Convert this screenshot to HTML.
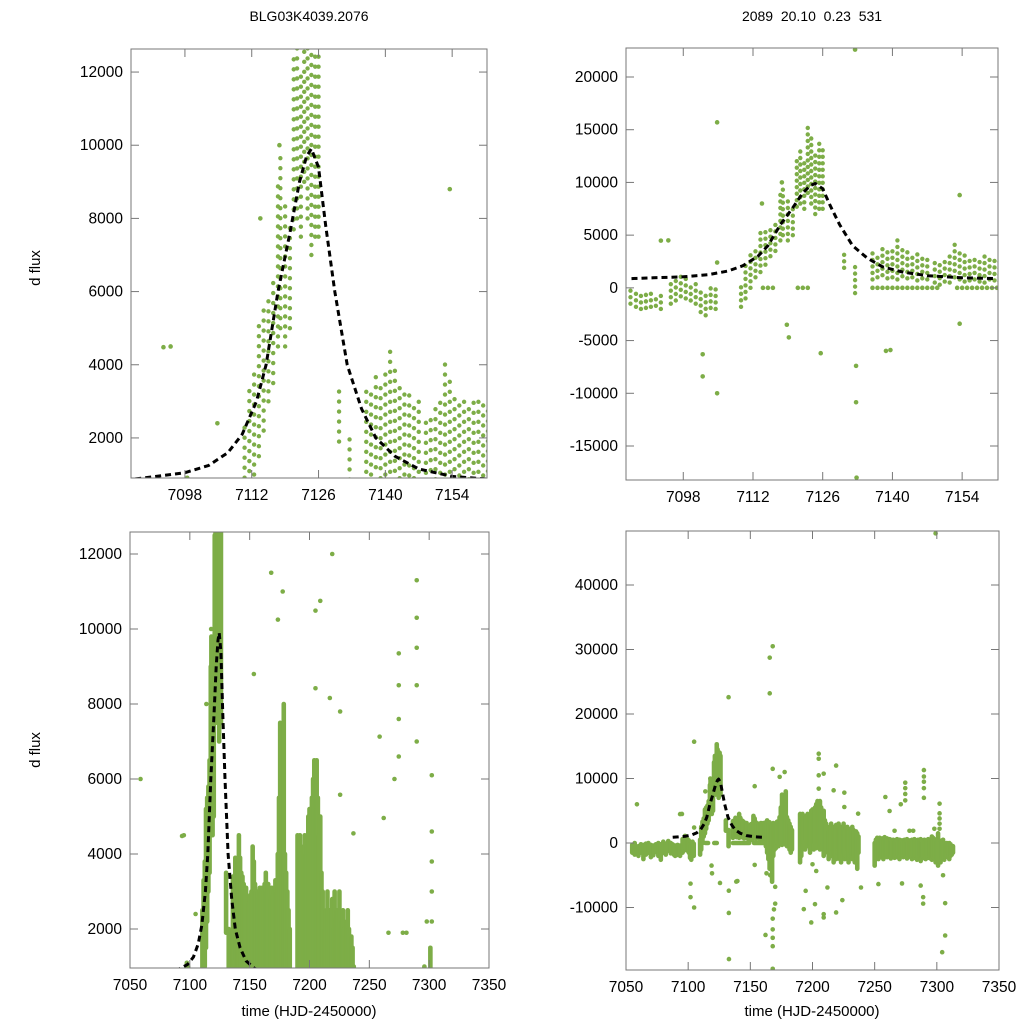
<!DOCTYPE html>
<html><head><meta charset="utf-8"><style>
html,body{margin:0;padding:0;background:#fff;width:1024px;height:1024px;overflow:hidden}
svg{display:block;font-family:"Liberation Sans",sans-serif}
</style></head><body>
<svg id="chart" width="1024" height="1024" viewBox="0 0 1024 1024">
<rect width="1024" height="1024" fill="#fff"/>
<text x="309" y="21" font-size="14" text-anchor="middle">BLG03K4039.2076</text>
<text x="812" y="21" font-size="14" text-anchor="middle" xml:space="preserve">2089  20.10  0.23  531</text>
<text transform="translate(40,268) rotate(-90)" font-size="15" text-anchor="middle">d flux</text>
<text transform="translate(40,750) rotate(-90)" font-size="15" text-anchor="middle">d flux</text>
<text x="309" y="1016" font-size="15" text-anchor="middle">time (HJD-2450000)</text>
<text x="812" y="1016" font-size="15" text-anchor="middle">time (HJD-2450000)</text>
</svg>
<script>
// Nightly observation streaks: [time, low flux, high flux]
const streakTimes=[7055,7057,7060,7062,7064,7066,7068,7070,7072,7074,7076,7078,7080,7082,7084,7086,7087.4,7088.5,7089.5,7090.5,7091.5,7092.5,7093.5,7095.5,7096.5,7097.5,7098.5,7099.5,7100.5,7101.5,7102.5,7103.5,7104.5,
7109.6,7110.5,7111.5,7112.5,7113.5,7114.5,7115.5,7116.5,7117.5,7118,7119,7120,7120.8,7121.5,7122.3,7123,7123.7,7124.5,7125.3,7126,7130.3,7132.5,
7136,7137,7138,7139,7140,7141,7142,7143,7144,7145,7146,7147,7148.5,7149.5,7150.5,7151.5,7152.5,7153.5,7154.5,7155.5,7156.5,7157.5,7158.5,7159.5,7160.5,
7161.5,7162.5,7163.5,7164.5,7165.5,7166.5,7167.5,7168.5,7169.5,7170.5,7171.5,7172.5,7173.5,7174.5,7175.5,7176.5,7177.5,7178.5,7179.5,7180.5,7181.5,7182.5,7183.5,
7190,7191,7192,7193,7194,7195,7196,7197,7198,7199,7200,7201,7202,7203,7204,7205,7206,7207,7208,7209,7210,7211,
7213,7214,7215,7216,7217,7218,7219,7220,7221,7222,7223,7224,7225,7226,7227,7228,7229,7230,7231,7232,7233,7234,7235,7236,7237,
7250,7251,7252,7253,7254,7255,7256,7257,7258,7259,7260,7261,7262,7263,7264,7265,7266,7267,7268,7269,7270,7271,7272,7273,7274,7275,7276,7277,7278,7279,7280,7281,7282,7283,7284,7285,7286,7287,7288,7289,7290,7291,7292,7293,7294,7295,7296,7297,7298,7299,7300,7301,7302,7303,7304,7305,7306,7307,7308,7309,7310,7311,7312,7313];
const streakLow=[-1500,-1800,-2000,-1500,-2500,-1800,-1500,-2200,-1900,-1400,-2000,-2600,-1500,-1800,-1200,-1600,-1500,-1800,-2000,-1900,-1800,-1700,-2000,-1500,-1200,-800,-1000,-1200,-1500,-2300,-2600,-1900,-2000,
-1800,-1000,0,1000,1500,2200,3000,3500,4500,5000,4500,5000,7700,8000,7500,9000,8000,7000,7500,7500,1900,-500,
800,1000,1200,900,1000,800,1100,900,1000,700,900,800,500,300,600,500,1000,800,600,700,800,600,500,800,700,
0,-500,-1500,-2500,-4000,-3000,-6000,-2000,-1000,-800,0,-500,0,0,-300,0,-200,0,-500,0,-1000,-1500,-1000,
-3000,-2000,-500,0,-1000,500,-500,0,-1500,-500,0,-1000,0,-800,0,0,-1000,-500,0,-2000,-1500,-1000,
-2500,-1500,-2000,-1000,-3000,-2000,-2500,-1500,-1000,-2500,-3000,-2000,-1500,-2500,-2000,-1000,-3000,-2000,-1500,-2500,-2000,-3000,-2500,-4000,-1500,
-3500,-2500,-2000,-2500,-1800,-2200,-2000,-2500,-1500,-2000,-2200,-1800,-2000,-2400,-1800,-2000,-2300,-1900,-2200,-2000,-2500,-1800,-2000,-2200,-1900,-2100,-2400,-2000,-1800,-2200,-2500,-2000,-2300,-2000,-2600,-2200,-2000,-2800,-2400,-2200,-2000,-2500,-2100,-2300,-2000,-2400,-2600,-2200,-2000,-3000,-2500,-3500,-2800,-3000,-2500,-2000,-2600,-2200,-2000,-1500,-2500,-2000,-1800,-1500];
const streakHigh=[-300,0,-500,-200,-300,-100,0,-300,-400,-200,0,-200,200,-100,300,0,-200,-400,-400,-500,-300,-500,-400,600,700,1100,1000,600,400,-200,-300,200,-100,
500,2500,3300,3800,5200,5500,5800,6500,9000,9800,8500,8000,12500,13500,12000,15300,14500,13000,14000,13500,3500,2000,
3400,3200,3900,3600,3800,4500,3900,3500,3400,3200,3000,3100,2500,2700,2900,3000,4200,3800,3200,3000,3000,2800,3100,3000,3100,
3000,3200,3500,3000,3200,3000,2800,3100,2900,3000,3300,3000,4000,5500,7500,6000,5000,8000,4000,3500,3000,2500,2000,
4500,4000,4500,4000,3800,4200,4500,4000,4200,5000,5200,4500,5500,6000,6500,6000,6500,5500,4500,5000,3500,3000,
2000,2500,3000,2200,2500,2000,2800,2000,3000,2300,2500,2500,3000,2000,2200,2500,2000,1800,2200,2500,2000,1500,1800,1500,1000,
0,500,800,600,800,500,700,600,900,500,700,400,600,500,300,500,400,300,600,200,500,300,400,200,500,300,600,200,400,300,500,300,600,400,200,500,300,600,400,200,500,300,400,600,300,500,1000,800,600,500,300,1500,400,0,300,500,0,-200,0,-300,0,-200,-500,-500];
// Isolated measurements
const pointTimes=[7058.8,7093.5,7095,7101.9,7101.9,7104.8,7104.8,7104.8,7113.8,7117.8,7118.8,7119.2,7125.6,7132.5,7132.7,7132.7,7132.8,7138.7,7139.6,7153.5,7153.5,7165.6,7168,7165.6,7168,7173.6,7177.6,7162.2,7168,7168,7168,7168,7168,7163,7166,7170,7170,7169,7205,7205,7209,7205,7205,7217,7219,7193,7199,7202,7209,7209,7219,7194.5,7200,7203,7212,7224,7239,7225.6,7225.6,7236.7,7258.6,7262,7253,7272,7274.6,7274.6,7274.6,7274.6,7271,7289.6,7289.6,7289.6,7289.6,7289.6,7299,7302.2,7302.2,7302.2,7302.2,7302.2,7298,7304.3,7306.7,7306.7,7305,7289,7289,7287,7281,7278,7266,
7114,7115,7116,7121,7122,7123,7136,7137,7138,7139,7140,7141,7142,7143,7144,7145,7146,7147,7148,7149,7153,7154,7155,7156,7157,7158,7159,7160,7161];
const pointFlux=[6000,4480,4500,-6300,-8400,15700,-10000,2400,8000,10000,-3500,-4700,-6200,22600,-7400,-10850,-18000,-5980,-5900,8800,-3400,28730,30500,23200,11500,10250,11000,-14260,-11730,-13400,-14700,-16000,-19500,-4700,-5000,-6800,-9400,-10300,13840,13060,10750,10490,8420,8160,12000,-10260,-12320,-9480,-11030,-11550,-10770,-7420,-3300,-4340,-6900,-8860,-6900,7800,5580,4550,7130,4960,-6370,-6270,9350,8500,7600,6600,6000,11300,10300,9500,8500,7000,48000,6100,4600,3800,3000,2200,2200,-16930,-14340,-9330,-5000,-9400,-8400,-6600,1900,1900,1900,
0,0,0,0,0,0,0,0,0,0,0,0,0,0,0,0,0,0,0,0,0,0,0,0,0,0,0,0,0];
// Fitted microlensing model
const modelTimes=[7087.6,7092,7098,7103,7107,7110,7113,7115,7117.5,7120,7122,7123.5,7124.5,7126,7127.5,7129.4,7132,7135,7138,7142,7147,7154,7161];
const modelFlux=[880,950,1050,1250,1600,2100,3000,4000,6000,7600,9000,9700,9900,9400,7800,6000,4000,2800,2000,1500,1150,950,880];
// Axis ticks
const topXTicks=[7098,7112,7126,7140,7154];
const fullXTicks=[7050,7100,7150,7200,7250,7300,7350];
const leftYTicks=[2000,4000,6000,8000,10000,12000];
const trYTicks=[-15000,-10000,-5000,0,5000,10000,15000,20000];
const brYTicks=[-10000,0,10000,20000,30000,40000];

const NS='http://www.w3.org/2000/svg';
const svg=document.getElementById('chart');
const GREEN='#7dad47';
const panels=[
 {id:'top-left',x0:131,x1:487,y0:49,y1:478,xmin:7086.7,xmax:7161.3,ymin:905,ymax:12630,xt:topXTicks,yt:leftYTicks,dash:'0,10'},
 {id:'top-right',x0:626,x1:998,y0:48,y1:480,xmin:7086.5,xmax:7161.2,ymin:-18225,ymax:22750,xt:topXTicks,yt:trYTicks,dash:'0,6.5'},
 {id:'bottom-left',x0:130,x1:489,y0:532,y1:968,xmin:7050,xmax:7350,ymin:960,ymax:12587,xt:fullXTicks,yt:leftYTicks,dash:null},
 {id:'bottom-right',x0:626,x1:999,y0:531,y1:970,xmin:7050,xmax:7350,ymin:-19690,ymax:48370,xt:fullXTicks,yt:brYTicks,dash:null}
];
function mk(tag,attrs,parent){const e=document.createElementNS(NS,tag);for(const k in attrs)e.setAttribute(k,attrs[k]);(parent||svg).appendChild(e);return e;}
panels.forEach(p=>{
 const sx=v=>p.x0+(v-p.xmin)/(p.xmax-p.xmin)*(p.x1-p.x0);
 const sy=v=>p.y1-(v-p.ymin)/(p.ymax-p.ymin)*(p.y1-p.y0);
 const g=mk('g',{});
 
 
 const cp=mk('clipPath',{id:'clip-'+p.id},g);
 mk('rect',{x:p.x0,y:p.y0,width:p.x1-p.x0,height:p.y1-p.y0},cp);
 const data=mk('g',{'clip-path':'url(#clip-'+p.id+')'},g);
 
 
 streakTimes.forEach((t,i)=>{
  const a={x1:sx(t),x2:sx(t),y1:sy(streakLow[i]),y2:sy(streakHigh[i]),stroke:GREEN,'stroke-width':p.dash?4.4:4.6,'stroke-linecap':'round'};
  if(p.dash)a['stroke-dasharray']=p.dash;
  const l=mk('line',a,data);
  
  
 });
 pointTimes.forEach((t,i)=>{
  const c=mk('circle',{cx:sx(t),cy:sy(pointFlux[i]),r:2.3,fill:GREEN},data);
  
  
 });
 const pts=modelTimes.map((t,i)=>sx(t).toFixed(1)+','+sy(modelFlux[i]).toFixed(1)).join(' ');
 const m=mk('polyline',{points:pts,fill:'none',stroke:'#000','stroke-width':3,'stroke-dasharray':'6,4','stroke-linejoin':'round'},data);
 
 
 const fr=mk('rect',{x:p.x0,y:p.y0,width:p.x1-p.x0,height:p.y1-p.y0,fill:'none',stroke:'#777','stroke-width':1},g);
 
 
 p.xt.forEach(t=>{
  const x=sx(t);
  mk('line',{x1:x,x2:x,y1:p.y1,y2:p.y1-8,stroke:'#777'},g);
  mk('line',{x1:x,x2:x,y1:p.y0,y2:p.y0+8,stroke:'#777'},g);
  const tx=mk('text',{x:x,y:p.y1+22,'font-size':15.5,'text-anchor':'middle'},g);
  tx.textContent=t;
  
  
 });
 p.yt.forEach(v=>{
  const y=sy(v);
  mk('line',{x1:p.x0,x2:p.x0+8,y1:y,y2:y,stroke:'#777'},g);
  mk('line',{x1:p.x1,x2:p.x1-8,y1:y,y2:y,stroke:'#777'},g);
  const tx=mk('text',{x:p.x0-8,y:y+5,'font-size':15.5,'text-anchor':'end'},g);
  tx.textContent=v;
  
  
 });
});
</script>
</body></html>
